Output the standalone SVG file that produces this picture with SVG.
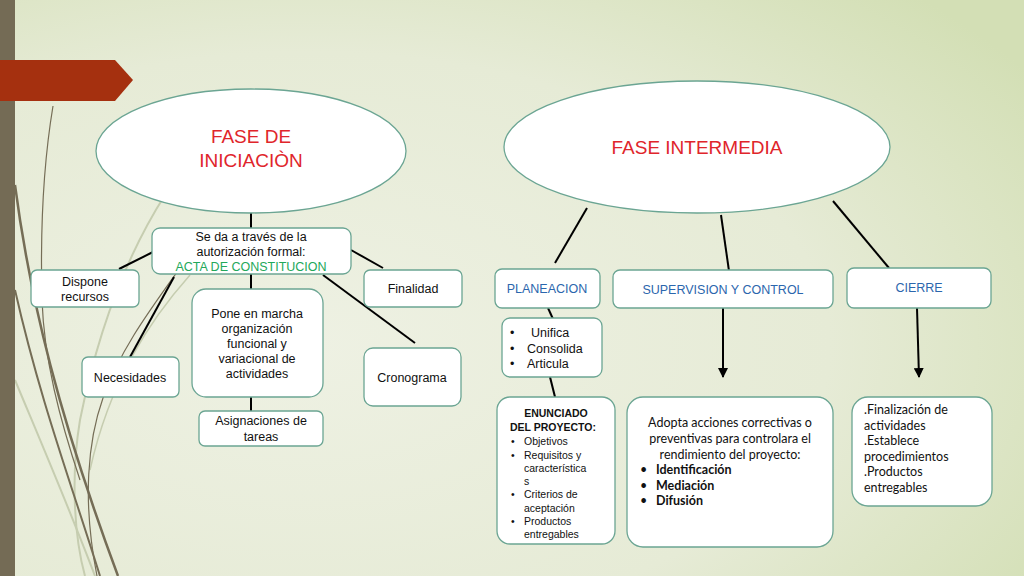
<svg xmlns="http://www.w3.org/2000/svg" width="1024" height="576" viewBox="0 0 1024 576">
<defs>
<radialGradient id="bg" cx="0.3" cy="0.6" r="0.85">
<stop offset="0" stop-color="#eef1e3"/>
<stop offset="0.6" stop-color="#e6ebd6"/>
<stop offset="1" stop-color="#d3dfb5"/>
</radialGradient>
<marker id="arr" viewBox="0 0 10 10" refX="9" refY="5" markerWidth="5" markerHeight="5" orient="auto">
<path d="M0,0 L10,5 L0,10 z" fill="#000"/>
</marker>
<style>
.box{fill:#fff;stroke:#6ba593;stroke-width:1.3}
.ell{fill:#fff;stroke:#6ba593;stroke-width:1.3}
.t{font-family:"Liberation Sans",Arial,sans-serif;font-size:12.5px;fill:#111}
.c{text-anchor:middle}
.red{font-family:"Liberation Sans",Arial,sans-serif;font-size:19px;fill:#e0252b;text-anchor:middle}
.blue{font-family:"Liberation Sans",Arial,sans-serif;font-size:12.5px;fill:#2b66ad;text-anchor:middle}
.green{fill:#23a85a}
.s{font-family:"Liberation Sans",Arial,sans-serif;font-size:10.5px;fill:#111}
.cal{font-family:Lato,"Open Sans",sans-serif;font-size:12.5px;fill:#111}
.conn line{stroke:#000;stroke-width:2}
.deco{fill:none;stroke:#756d56}
.decol{fill:none;stroke:#c6cdb0}
</style>
</defs>
<rect x="0" y="0" width="1024" height="576" fill="url(#bg)"/>
<!-- decorative -->
<path class="decol" stroke-width="2" d="M165,195 C130,250 100,320 80,420 C70,480 75,540 85,576"/>
<path class="decol" stroke-width="2" d="M15,380 C40,440 70,510 95,576"/>
<path class="decol" stroke-width="1.5" d="M190,275 C150,320 110,380 90,470"/>
<path class="deco" stroke-width="1.2" d="M53,106 C44,160 40,225 42,300 C44,360 60,420 80,480"/>
<path class="deco" stroke-width="2.5" d="M15,185 C30,300 60,420 118,576"/>
<path class="deco" stroke-width="2" d="M15,290 C40,400 70,480 100,576"/>
<path class="deco" stroke-width="1.2" d="M180,268 C150,310 120,350 103,398 C88,440 82,500 97,576"/>
<rect x="0" y="0" width="15" height="576" fill="#746b55"/>
<path d="M0,60 L115,60 L133,80 L115,101 L0,101 z" fill="#a5300f"/>
<!-- connectors -->
<g class="conn" id="connectors">
<line x1="251" y1="213" x2="251" y2="228"/>
<line x1="153" y1="252" x2="119" y2="269"/>
<line x1="174" y1="277" x2="130" y2="357"/>
<line x1="251" y1="274" x2="251" y2="289"/>
<line x1="251" y1="397" x2="251" y2="411"/>
<line x1="323" y1="275" x2="415" y2="343"/>
<line x1="351" y1="250" x2="383" y2="268"/>
<line x1="587" y1="208" x2="555" y2="263"/>
<line x1="721" y1="215" x2="729" y2="271"/>
<line x1="833" y1="201" x2="889" y2="268"/>
<line x1="548" y1="308" x2="553" y2="319"/>
<line x1="550" y1="377" x2="555" y2="397"/>
<line x1="723" y1="308" x2="723" y2="377" marker-end="url(#arr)"/>
<line x1="917" y1="308" x2="919" y2="377" marker-end="url(#arr)"/>
</g>
<g id="fase-iniciacion">
<ellipse class="ell" cx="251" cy="151" rx="155" ry="62"/>
<text class="red" x="251" y="143">FASE DE</text>
<text class="red" x="251" y="167">INICIACIÒN</text>
</g>
<g id="fase-intermedia">
<ellipse class="ell" cx="697" cy="147" rx="193" ry="66"/>
<text class="red" x="697" y="154">FASE INTERMEDIA</text>
</g>
<g id="acta">
<rect class="box" x="152" y="228" width="199" height="46" rx="8"/>
<text class="t c" x="251" y="241">Se da a través de la</text>
<text class="t c" x="251" y="256">autorización formal:</text>
<text class="t c green" x="251" y="271">ACTA DE CONSTITUCION</text>
</g>
<g id="dispone">
<rect class="box" x="31" y="270" width="108" height="37" rx="6"/>
<text class="t c" x="85" y="286">Dispone</text>
<text class="t c" x="85" y="301">recursos</text>
</g>
<g id="necesidades">
<rect class="box" x="82" y="357" width="97" height="40" rx="6"/>
<text class="t c" x="130" y="382">Necesidades</text>
</g>
<g id="pone">
<rect class="box" x="192" y="289" width="131" height="108" rx="14"/>
<text class="t c" x="257" y="318">Pone en marcha</text>
<text class="t c" x="257" y="333">organización</text>
<text class="t c" x="257" y="348">funcional y</text>
<text class="t c" x="257" y="363">variacional de</text>
<text class="t c" x="257" y="378">actividades</text>
</g>
<g id="asignaciones">
<rect class="box" x="199" y="411" width="124" height="35" rx="6"/>
<text class="t c" x="261" y="425">Asignaciones de</text>
<text class="t c" x="261" y="441">tareas</text>
</g>
<g id="finalidad">
<rect class="box" x="364" y="270" width="98" height="37" rx="6"/>
<text class="t c" x="413" y="293">Finalidad</text>
</g>
<g id="cronograma">
<rect class="box" x="364" y="348" width="97" height="58" rx="9"/>
<text class="t c" x="412" y="382">Cronograma</text>
</g>
<g id="planeacion">
<rect class="box" x="495" y="269" width="105" height="39" rx="7"/>
<text class="blue" x="547" y="293">PLANEACION</text>
</g>
<g id="supervision">
<rect class="box" x="613" y="270" width="220" height="38" rx="7"/>
<text class="blue" x="723" y="294">SUPERVISION Y CONTROL</text>
</g>
<g id="cierre">
<rect class="box" x="847" y="268" width="144" height="40" rx="7"/>
<text class="blue" x="919" y="292">CIERRE</text>
</g>
<g id="unifica">
<rect class="box" x="502" y="318" width="100" height="59" rx="8"/>
<text class="t" x="510" y="337">•</text><text class="t" x="531" y="337">Unifica</text>
<text class="t" x="510" y="353">•</text><text class="t" x="527" y="353">Consolida</text>
<text class="t" x="510" y="368">•</text><text class="t" x="527" y="368">Articula</text>
</g>
<g id="enunciado">
<rect class="box" x="497" y="397" width="118" height="147" rx="13"/>
<text class="s c" x="556" y="417" font-weight="bold">ENUNCIADO</text>
<text class="s" x="510" y="431" font-weight="bold">DEL PROYECTO:</text>
<text class="s" x="511" y="445">•</text><text class="s" x="524" y="445">Objetivos</text>
<text class="s" x="511" y="459">•</text><text class="s" x="524" y="459">Requisitos y</text>
<text class="s" x="524" y="472">característica</text>
<text class="s" x="524" y="485">s</text>
<text class="s" x="511" y="498">•</text><text class="s" x="524" y="498">Criterios de</text>
<text class="s" x="524" y="512">aceptación</text>
<text class="s" x="511" y="525">•</text><text class="s" x="524" y="525">Productos</text>
<text class="s" x="524" y="538">entregables</text>
</g>
<g id="adopta">
<rect class="box" x="627" y="397" width="206" height="150" rx="16"/>
<text class="cal c" x="730" y="427">Adopta acciones correctivas o</text>
<text class="cal c" x="730" y="443">preventivas para controlara el</text>
<text class="cal c" x="730" y="459">rendimiento del proyecto:</text>
<text class="cal" x="640" y="474">•</text><text class="cal" x="656" y="474" font-weight="bold">Identificación</text>
<text class="cal" x="640" y="490">•</text><text class="cal" x="656" y="490" font-weight="bold">Mediación</text>
<text class="cal" x="640" y="505">•</text><text class="cal" x="656" y="505" font-weight="bold">Difusión</text>
</g>
<g id="finalizacion">
<rect class="box" x="852" y="397" width="140" height="109" rx="16"/>
<text class="cal" x="864" y="414">.Finalización de</text>
<text class="cal" x="864" y="430">actividades</text>
<text class="cal" x="864" y="445">.Establece</text>
<text class="cal" x="864" y="461">procedimientos</text>
<text class="cal" x="864" y="476">.Productos</text>
<text class="cal" x="864" y="492">entregables</text>
</g>
</svg>
